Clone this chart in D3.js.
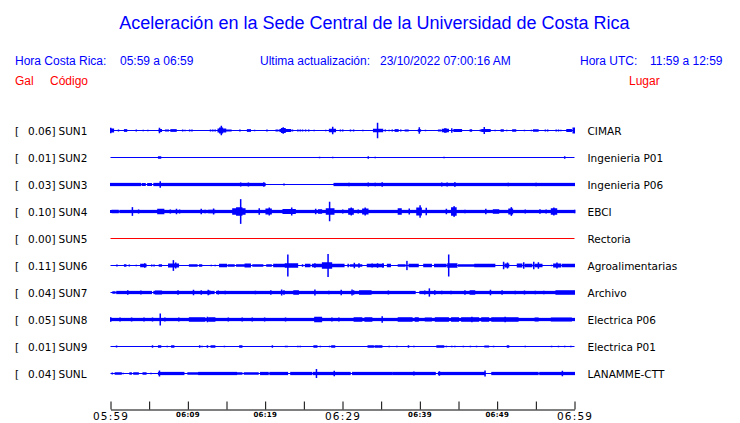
<!DOCTYPE html>
<html><head><meta charset="utf-8">
<script src="https://cdn.jsdelivr.net/npm/d3@7"></script>
<style>body{margin:0;background:#fff}svg{display:block}</style>
</head><body><svg id="c" width="740" height="423"></svg>
<script>
const title = "Aceleración en la Sede Central de la Universidad de Costa Rica";
const headerLeft = ["Hora Costa Rica:", "05:59 a 06:59"];
const headerMid = ["Ultima actualización:", "23/10/2022 07:00:16 AM"];
const headerRight = ["Hora UTC:", "11:59 a 12:59"];
const colHeads = ["Gal", "Código", "Lugar"];
const codes = ["SUN1","SUN2","SUN3","SUN4","SUN5","SUN6","SUN7","SUN8","SUN9","SUNL"];
const peaks = [0.06,0.01,0.03,0.10,0.00,0.11,0.04,0.05,0.01,0.04];
const places = ["CIMAR","Ingenieria P01","Ingenieria P06","EBCI","Rectoria","Agroalimentarias","Archivo","Electrica P06","Electrica P01","LANAMME-CTT"];
const tickMinutes = [0,5,10,15,20,25,30,35,40,45,50,55,60];
const tickLabels = ["05:59","06:09","06:19","06:29","06:39","06:49","06:59"];
const bigLabels = ["05:59","06:29","06:59"];

// envelope segments per station: [start minute, end minute, half amplitude (gal)]
const sun1 = [[0,0.4,0.016],[0,0,0.022],[1.0,1.0,0.008],[1.8,2.1,0.011],[3.3,3.3,0.008],[4.2,4.2,0.006],[4.8,4.8,0.006],[6.3,6.6,0.012],[6.3,6.3,0.022],[7.1,7.5,0.008],[7.8,8.5,0.011],[9.3,9.3,0.008],[9.6,9.6,0.006],[10.2,10.2,0.008],[10.5,10.5,0.008],[12.9,12.9,0.008],[13.2,13.2,0.008],[13.5,13.5,0.008],[13.9,14.9,0.016],[14.1,14.5,0.024],[14.3,14.3,0.038],[15.0,15.6,0.008],[16.7,16.7,0.008],[17.7,18.1,0.011],[18.6,18.6,0.006],[20.2,20.2,0.008],[21.4,21.4,0.008],[21.6,21.6,0.008],[21.9,23.3,0.012],[22.1,22.6,0.020],[22.3,22.3,0.026],[23.5,23.5,0.008],[24.2,24.2,0.008],[24.5,24.5,0.008],[24.8,24.8,0.008],[25.2,25.2,0.008],[25.6,25.6,0.008],[26.3,26.3,0.006],[27.8,27.8,0.006],[28.3,29.1,0.014],[28.7,28.7,0.030],[29.7,29.7,0.008],[30.0,30.0,0.008],[31.0,31.0,0.008],[31.4,31.4,0.008],[32.6,32.6,0.006],[34.0,35.2,0.014],[34.5,34.5,0.062],[35.5,35.5,0.008],[36.0,36.0,0.006],[36.4,36.4,0.008],[36.8,37.2,0.011],[37.5,37.5,0.008],[38.1,38.5,0.008],[39.8,40.1,0.010],[39.9,39.9,0.026],[40.7,40.7,0.006],[42.4,42.7,0.008],[42.9,43.7,0.014],[43.2,43.4,0.018],[44.1,44.1,0.018],[44.4,45.4,0.012],[46.5,46.7,0.010],[47.8,47.8,0.008],[48.0,49.1,0.012],[48.3,48.3,0.028],[49.7,49.7,0.006],[50.5,50.8,0.010],[51.2,51.2,0.006],[52.0,52.4,0.010],[53.5,53.5,0.006],[54.4,54.4,0.006],[54.7,55.3,0.010],[56.2,56.2,0.008],[56.5,56.5,0.008],[57.6,57.6,0.008],[57.9,57.9,0.008],[58.2,58.2,0.006],[59.0,59.6,0.012],[59.8,60,0.024]];
const sun2 = [[6.2,6.5,0.010],[27.0,27.0,0.006],[28.7,28.7,0.006],[33.3,33.3,0.010],[34.2,34.2,0.006],[43.1,43.1,0.006],[58.7,58.7,0.010]];
const sun3 = [[0,3.9,0.013],[4.1,4.5,0.012],[4.8,5.3,0.012],[5.6,20.0,0.013],[6.4,6.4,0.026],[16.8,16.8,0.016],[17.8,17.8,0.016],[19.8,19.8,0.018],[22.4,22.4,0.008],[28.9,60,0.013],[30.8,30.8,0.014],[33.3,33.3,0.016],[34.2,34.2,0.014],[35.1,35.1,0.018],[42.8,42.8,0.016],[43.5,43.5,0.016],[44.5,44.5,0.019],[51.4,51.4,0.014],[55.0,55.0,0.014]];
const sun4 = [[0,1.0,0.012],[1.2,60,0.013],[0.2,1.0,0.014],[2.8,2.8,0.035],[3.6,3.6,0.016],[6.1,6.9,0.022],[7.7,7.7,0.016],[8.5,8.5,0.022],[8.9,8.9,0.016],[11.7,11.7,0.022],[12.2,12.2,0.014],[12.7,13.5,0.014],[13.3,13.3,0.024],[15.8,17.4,0.026],[16.3,17.0,0.034],[16.8,16.8,0.099],[19.2,19.2,0.026],[20.1,20.8,0.024],[20.5,20.5,0.032],[22.3,23.9,0.020],[23.4,23.4,0.032],[26.5,26.5,0.022],[26.9,27.3,0.018],[27.9,28.9,0.026],[28.3,28.3,0.078],[30.0,30.0,0.016],[30.8,31.4,0.026],[31.1,31.1,0.032],[32.0,32.0,0.016],[32.6,33.3,0.024],[32.9,32.9,0.032],[37.2,37.6,0.026],[38.6,38.6,0.024],[39.6,40.2,0.032],[40.0,40.0,0.050],[40.8,40.8,0.030],[43.4,43.4,0.022],[44.1,44.7,0.034],[44.4,44.4,0.043],[45.8,45.8,0.014],[48.5,48.5,0.022],[49.5,50.2,0.018],[51.5,52.0,0.024],[51.8,51.8,0.035],[53.6,53.6,0.016],[55.5,55.5,0.018],[56.3,56.3,0.016],[57.0,57.7,0.026],[57.3,57.3,0.032],[60,60,0.014]];
const sun5 = [];
const sun6 = [[0.8,0.8,0.008],[1.8,2.0,0.010],[2.4,2.4,0.008],[3.3,3.3,0.006],[3.9,4.6,0.014],[4.4,4.4,0.018],[5.3,5.3,0.008],[5.6,5.6,0.008],[6.3,6.6,0.010],[7.5,8.8,0.016],[8.1,8.1,0.043],[8.4,8.4,0.024],[10.2,11.2,0.010],[11.5,11.8,0.010],[13.0,13.0,0.006],[13.5,13.5,0.006],[14.1,15.0,0.014],[15.2,16.0,0.010],[16.3,17.4,0.010],[17.4,18.1,0.016],[18.4,19.7,0.010],[20.2,20.8,0.010],[21.1,22.6,0.014],[22.6,24.2,0.018],[22.9,22.9,0.088],[24.8,24.8,0.010],[25.2,25.8,0.014],[26.1,27.3,0.014],[26.4,26.4,0.018],[27.4,28.6,0.026],[28.1,28.1,0.092],[28.6,29.5,0.014],[29.6,30.2,0.014],[30.7,30.7,0.014],[31.0,32.5,0.010],[31.5,31.5,0.022],[32.1,32.1,0.018],[33.2,35.3,0.014],[33.8,33.8,0.016],[34.5,34.5,0.018],[35.2,35.2,0.018],[35.8,36.2,0.014],[37.2,38.1,0.010],[38.3,38.3,0.037],[38.6,39.8,0.014],[40.5,41.5,0.014],[41.9,43.4,0.014],[43.6,44.8,0.018],[43.7,43.7,0.088],[45.0,47.1,0.010],[47.1,49.7,0.014],[50.8,50.8,0.030],[51.0,51.5,0.016],[51.3,51.3,0.024],[52.6,53.2,0.016],[53.4,53.4,0.026],[53.6,54.5,0.014],[54.7,54.7,0.030],[54.9,55.8,0.014],[55.3,55.3,0.026],[57.0,57.0,0.006],[57.3,58.2,0.016],[57.7,57.7,0.024],[58.4,60,0.014]];
const sun7 = [[0.3,0.6,0.010],[0.8,5.3,0.013],[5.6,13.4,0.013],[13.7,39.4,0.013],[40.0,60,0.013],[2.2,2.2,0.018],[3.9,3.9,0.016],[5.8,6.6,0.016],[8.7,8.7,0.018],[10.7,10.7,0.022],[11.7,11.7,0.018],[12.6,12.6,0.022],[12.8,12.8,0.016],[13.9,13.9,0.016],[14.8,14.8,0.014],[18.7,18.7,0.014],[20.7,20.7,0.018],[22.1,22.1,0.024],[22.4,22.4,0.018],[23.7,24.3,0.018],[26.4,26.4,0.024],[28.2,28.2,0.014],[29.8,29.8,0.022],[31.2,31.2,0.024],[31.4,31.4,0.018],[32.2,33.7,0.018],[35.9,35.9,0.016],[40.6,40.6,0.016],[41.2,41.2,0.033],[41.9,41.9,0.018],[42.8,42.8,0.014],[44.0,44.0,0.014],[45.8,45.8,0.018],[46.5,47.1,0.018],[49.1,49.1,0.022],[50.6,50.6,0.018],[52.3,52.3,0.014],[53.5,53.5,0.016],[54.9,54.9,0.014],[56.0,56.0,0.014],[57.6,60,0.018]];
const sun8 = [[0,60,0.013],[0,0,0.018],[1.2,1.2,0.016],[2.7,2.7,0.016],[4.3,4.3,0.016],[5.4,5.4,0.016],[6.4,6.4,0.048],[7.0,7.0,0.016],[8.8,8.8,0.016],[10.2,12.2,0.018],[12.5,12.5,0.022],[12.7,13.5,0.018],[15.2,15.2,0.016],[17.0,17.0,0.016],[18.3,18.3,0.016],[19.9,19.9,0.016],[22.6,22.6,0.016],[26.4,27.3,0.022],[28.6,28.6,0.016],[29.5,29.5,0.016],[31.5,32.5,0.018],[32.9,33.8,0.018],[35.1,35.1,0.026],[37.2,39.0,0.018],[39.4,39.8,0.018],[40.7,41.5,0.016],[42.0,43.7,0.018],[44.1,45.0,0.018],[45.4,47.6,0.018],[46.7,46.7,0.022],[48.0,48.9,0.018],[49.3,52.7,0.018],[51.0,51.0,0.022],[54.9,55.3,0.016],[57.0,59.6,0.016]];
const sun9 = [[0.75,0.75,0.008],[5.4,5.4,0.010],[6.2,6.5,0.010],[7.3,7.3,0.006],[7.9,8.2,0.010],[11.5,11.5,0.010],[11.8,11.8,0.006],[12.5,12.5,0.010],[13.0,13.5,0.010],[14.7,14.7,0.006],[16.7,17.0,0.010],[20.9,20.9,0.010],[22.6,22.6,0.006],[22.8,22.8,0.006],[24.2,24.2,0.006],[24.5,24.5,0.006],[26.3,26.7,0.010],[27.1,27.1,0.006],[28.3,28.3,0.006],[28.6,29.0,0.010],[33.3,34.0,0.010],[34.2,34.6,0.010],[34.7,35.1,0.010],[36.0,36.0,0.006],[37.0,37.0,0.006],[38.5,38.5,0.010],[39.2,39.2,0.006],[42.2,43.1,0.010],[43.4,43.4,0.006],[44.1,44.1,0.006],[44.5,44.5,0.006],[45.6,45.6,0.006],[46.5,46.5,0.006],[47.3,47.3,0.006],[48.4,48.9,0.008],[49.5,49.5,0.006],[51.3,51.5,0.010],[53.6,53.6,0.006],[57.0,57.0,0.006],[57.9,57.9,0.006],[58.7,58.7,0.006],[59.5,59.5,0.006]];
const sunL = [[0.2,0.2,0.008],[0.6,1.4,0.010],[1.6,1.6,0.006],[2.5,2.7,0.010],[3.0,3.6,0.010],[4.2,4.6,0.010],[5.2,5.2,0.006],[6.2,9.5,0.013],[6.3,6.3,0.024],[10.0,11.4,0.010],[11.4,16.3,0.013],[16.3,17.0,0.010],[17.3,19.1,0.010],[19.4,20.4,0.013],[20.6,22.9,0.013],[23.3,26.0,0.013],[26.2,31.0,0.013],[26.6,26.6,0.036],[28.9,28.9,0.022],[31.3,36.4,0.013],[36.5,42.0,0.013],[39.2,39.2,0.016],[42.4,48.4,0.013],[42.5,42.5,0.018],[48.4,48.4,0.024],[49.3,55.3,0.013],[55.5,60,0.013],[58.4,58.4,0.022]];
const traces = [sun1,sun2,sun3,sun4,sun5,sun6,sun7,sun8,sun9,sunL];

const svg = d3.select("#c");
const BLUE = "#0000ff", RED = "#ff0000";
const x = d3.scaleLinear().domain([0,60]).range([110.5,574.5]);
const row = d3.scalePoint().domain(codes).range([130.5,373.5]);
const amp = d3.scaleLinear().domain([-0.1,0.1]).range([12.5,-12.5]);

svg.append("rect").attr("width",740).attr("height",423).attr("fill","#fff");

// header
const hf = "'Liberation Sans', Arial, sans-serif";
svg.append("text").attr("x",374.5).attr("y",29).attr("text-anchor","middle")
  .attr("font-family",hf).attr("font-size",18).attr("fill",BLUE).text(title);
const hdr = [[15,headerLeft[0]],[120,headerLeft[1]],[260,headerMid[0]],[380,headerMid[1]],[580,headerRight[0]],[650,headerRight[1]]];
svg.selectAll("text.h").data(hdr).join("text").attr("class","h")
  .attr("x",d=>d[0]).attr("y",65).attr("font-family",hf).attr("font-size",12).attr("fill",BLUE).text(d=>d[1]);
const ch = [[15,colHeads[0]],[50,colHeads[1]],[629,colHeads[2]]];
svg.selectAll("text.ch").data(ch).join("text").attr("class","ch")
  .attr("x",d=>d[0]).attr("y",85).attr("font-family",hf).attr("font-size",12).attr("fill",RED).text(d=>d[1]);

// labels
const lf = "'DejaVu Sans', sans-serif";
const rows = codes.map((c,i)=>({code:c, peak:peaks[i], place:places[i], segs:traces[i]}));
const g = svg.selectAll("g.row").data(rows).join("g").attr("class","row")
  .attr("transform",d=>`translate(0,${row(d.code)})`);
g.append("text").attr("x",15).attr("y",4).attr("font-family",lf).attr("font-size",10.5).text("[");
g.append("text").attr("x",55.5).attr("y",4).attr("text-anchor","end").attr("font-family",lf).attr("font-size",10.5).text(d=>d.peak.toFixed(2)+"]");
g.append("text").attr("x",58.5).attr("y",4).attr("font-family",lf).attr("font-size",10.5).text(d=>d.code);
g.append("text").attr("x",587.5).attr("y",4).attr("font-family",lf).attr("font-size",10.5).text(d=>d.place);

// traces
g.append("line").attr("x1",x(0)).attr("x2",x(60)).attr("y1",0).attr("y2",0)
  .attr("stroke",d=>d.peak===0?RED:BLUE).attr("stroke-width",d=>d.peak===0?1:1.2);
g.each(function(d){
  d3.select(this).selectAll("rect.s").data(d.segs).join("rect").attr("class","s")
    .attr("x",s=>x(s[0])-0.5)
    .attr("width",s=>Math.max(1.5, x(s[1])-x(s[0])+1))
    .attr("y",s=>amp(s[2]))
    .attr("height",s=>amp(-s[2])-amp(s[2]))
    .attr("fill",BLUE);
});

// axis
const axisY = 409.5;
const ax = svg.append("g").attr("transform",`translate(0,${axisY})`)
  .call(d3.axisBottom(x).tickValues(tickMinutes).tickSizeInner(-8).tickSizeOuter(0).tickFormat(""));
ax.select(".domain").attr("stroke","#000");
ax.selectAll(".tick line").attr("stroke","#000");
const labMin = tickMinutes.filter(m=>m%10===0);
const isBig = i => bigLabels.includes(tickLabels[i]);
svg.selectAll("text.tl").data(labMin).join("text").attr("class","tl")
  .attr("x",(m,i)=>x(m) + (isBig(i) ? 0.6 : 0.15))
  .attr("y",(m,i)=>isBig(i) ? 419.5 : 417)
  .attr("text-anchor","middle")
  .attr("font-family",lf)
  .attr("font-size",(m,i)=>isBig(i) ? 10.5 : 7)
  .attr("font-weight",(m,i)=>isBig(i) ? "normal" : "bold")
  .attr("letter-spacing",(m,i)=>isBig(i) ? 1.2 : 0.3)
  .text((m,i)=>tickLabels[i]);
</script></body></html>
